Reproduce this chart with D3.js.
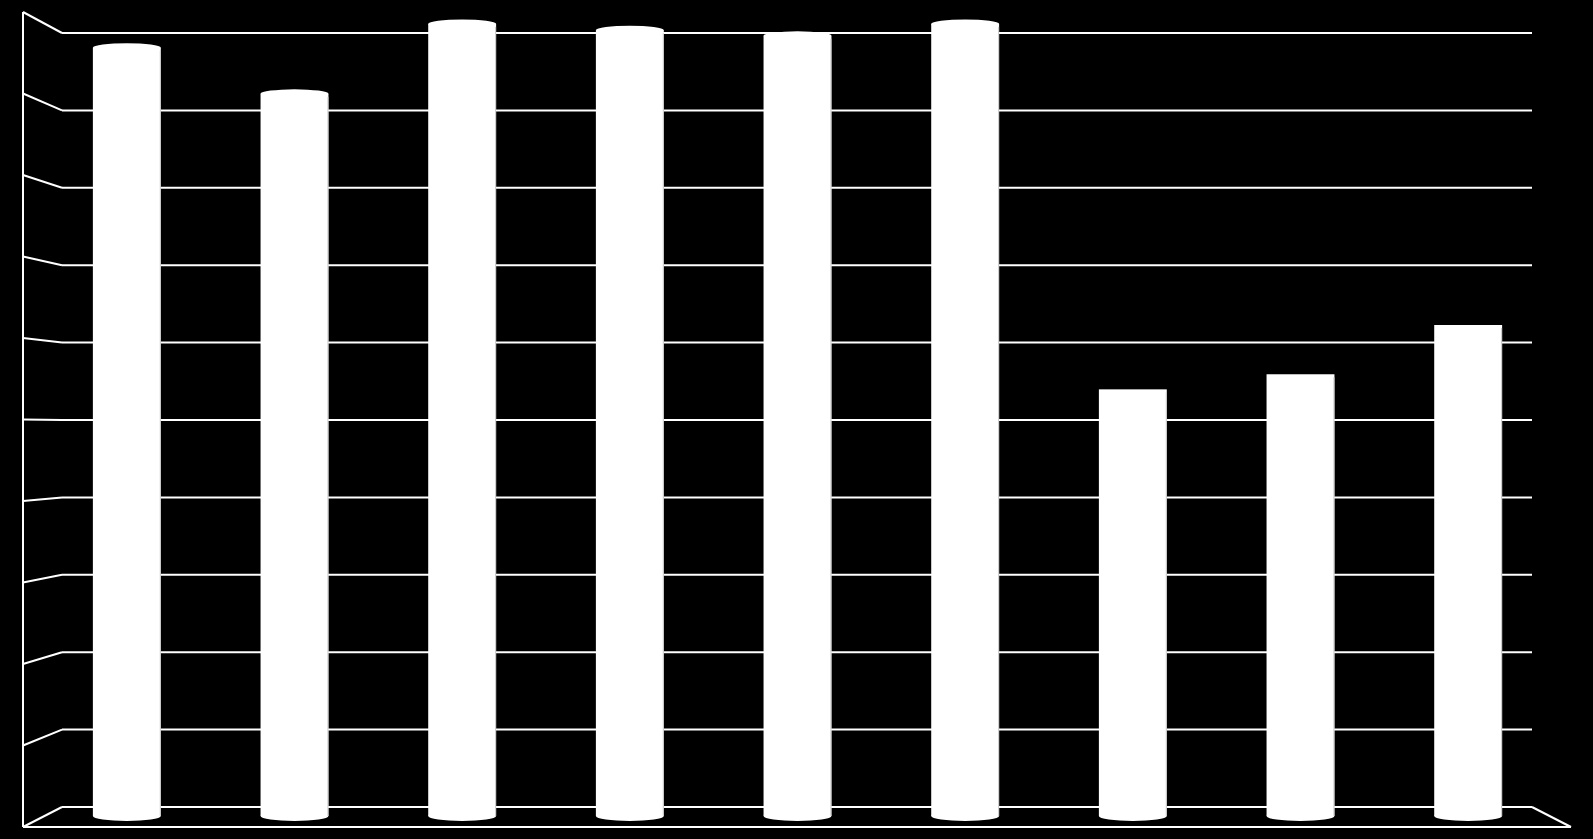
<!DOCTYPE html>
<html>
<head>
<meta charset="utf-8">
<script src="https://cdn.jsdelivr.net/npm/d3@7/dist/d3.min.js"></script>
<style>
  html, body { margin: 0; padding: 0; background: #000; overflow: hidden; }
</style>
</head>
<body>
<div id="chart"></div>
<script>
// Data
var categories = ['1', '2', '3', '4', '5', '6', '7', '8', '9'];
var values = [96.7, 90.9, 99.7, 98.9, 98.2, 99.7, 53.7, 55.6, 61.8];
var gridTicks = [0, 10, 20, 30, 40, 50, 60, 70, 80, 90, 100];

(function () {
    var W = 1593, H = 839;

    var svg = d3.select('#chart')
        .append('svg')
        .attr('width', W)
        .attr('height', H)
        .style('display', 'block')
        .style('background', '#000');

    // back wall, front edge and mid depth (where the cylinders stand)
    var yBack = d3.scaleLinear().domain([0, 100]).range([807, 33]);
    var yFront = d3.scaleLinear().domain([0, 100]).range([827, 12]);
    var yBar = d3.scaleLinear().domain([0, 100]).range([816, 21.5]);

    var xBack = [62, 1532];
    var xFront = [23, 1571];

    var x = d3.scaleBand()
        .domain(categories)
        .range([43, 1552])
        .paddingInner(0.595)
        .paddingOuter(0.2975);

    var series = categories.map(function (c, i) {
        return { cat: c, value: values[i] };
    });

    // Gridlines on the back wall
    svg.append('g')
        .selectAll('line')
        .data(gridTicks)
        .enter()
        .append('line')
        .attr('x1', xBack[0])
        .attr('x2', xBack[1])
        .attr('y1', function (d) { return yBack(d); })
        .attr('y2', function (d) { return yBack(d); })
        .attr('stroke', '#fff')
        .attr('stroke-width', 2);

    // Side wall diagonals
    svg.append('g')
        .selectAll('line')
        .data(gridTicks)
        .enter()
        .append('line')
        .attr('x1', xFront[0])
        .attr('y1', function (d) { return yFront(d); })
        .attr('x2', xBack[0])
        .attr('y2', function (d) { return yBack(d); })
        .attr('stroke', '#fff')
        .attr('stroke-width', 2);

    // Side wall front edge
    svg.append('line')
        .attr('x1', xFront[0]).attr('x2', xFront[0])
        .attr('y1', yFront(100)).attr('y2', yFront(0))
        .attr('stroke', '#fff')
        .attr('stroke-width', 2);

    // Floor front edge and right diagonal
    svg.append('line')
        .attr('x1', xFront[0]).attr('x2', xFront[1])
        .attr('y1', yFront(0)).attr('y2', yFront(0))
        .attr('stroke', '#fff')
        .attr('stroke-width', 2);

    svg.append('line')
        .attr('x1', xBack[1]).attr('y1', yBack(0))
        .attr('x2', xFront[1]).attr('y2', yFront(0))
        .attr('stroke', '#fff')
        .attr('stroke-width', 2);

    // Cylinders
    var bw = x.bandwidth();
    var bars = svg.append('g')
        .selectAll('g')
        .data(series)
        .enter()
        .append('g');

    bars.append('ellipse')
        .attr('cx', function (d) { return x(d.cat) + bw / 2; })
        .attr('cy', yBar(0))
        .attr('rx', bw / 2)
        .attr('ry', 5)
        .attr('fill', '#fff');

    bars.append('rect')
        .attr('x', function (d) { return x(d.cat); })
        .attr('y', function (d) { return yBar(d.value); })
        .attr('width', bw)
        .attr('height', function (d) { return yBar(0) - yBar(d.value); })
        .attr('fill', '#fff');

    // rounded caps only show on the tall ones in the original render
    bars.filter(function (d) { return d.value >= 90; })
        .append('ellipse')
        .attr('cx', function (d) { return x(d.cat) + bw / 2; })
        .attr('cy', function (d) { return yBar(d.value); })
        .attr('rx', bw / 2)
        .attr('ry', 4.5)
        .attr('fill', '#fff');

    // faint shading on the right edge
    bars.append('line')
        .attr('x1', function (d) { return x(d.cat) + bw - 0.5; })
        .attr('x2', function (d) { return x(d.cat) + bw - 0.5; })
        .attr('y1', function (d) { return yBar(d.value) + 3; })
        .attr('y2', yBar(0))
        .attr('stroke', '#c8c8c8')
        .attr('stroke-width', 1);
})();
</script>
</body>
</html>
